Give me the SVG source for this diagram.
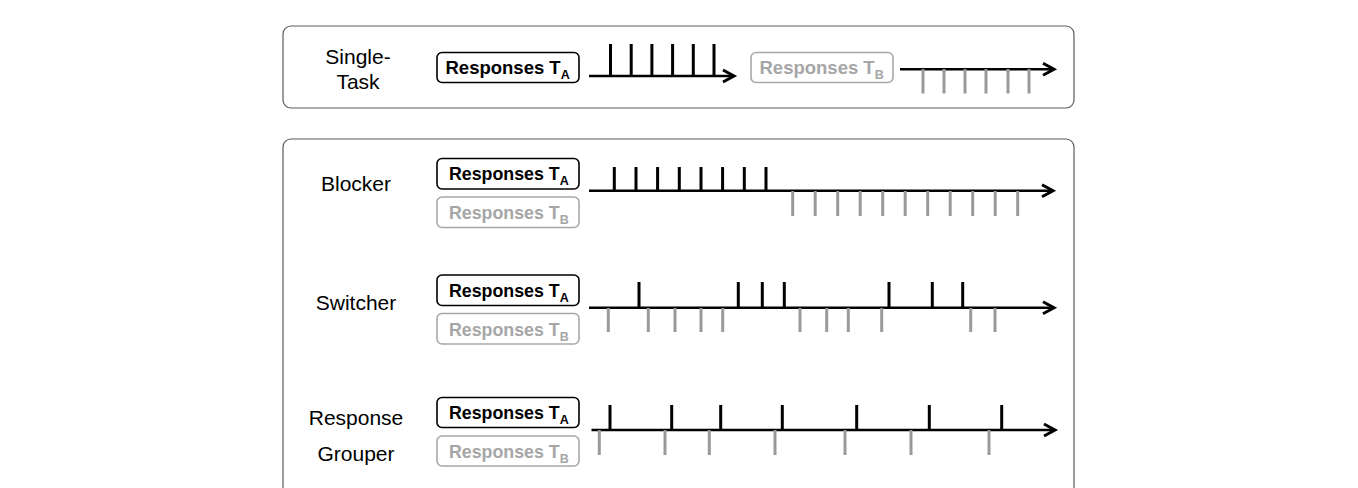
<svg xmlns="http://www.w3.org/2000/svg" width="1358" height="488" viewBox="0 0 1358 488">
<style>
.panel{fill:#fff;stroke:#5a5a5a;stroke-width:1.2}
.lbl{font-family:"Liberation Sans",Arial,sans-serif;font-size:21px;fill:#000;text-anchor:middle}
.boxA{fill:#fff;stroke:#000;stroke-width:1.6}
.boxB{fill:#fff;stroke:#a8a8a8;stroke-width:1.6}
.tA{font-family:"Liberation Sans",Arial,sans-serif;font-weight:bold;font-size:17.8px;fill:#000}
.tB{font-family:"Liberation Sans",Arial,sans-serif;font-weight:bold;font-size:17.8px;fill:#a6a6a6}
.sub{font-size:12.5px}
.axis{stroke:#000;stroke-width:2.5;fill:none}
.tkA{stroke:#000;stroke-width:3}
.tkB{stroke:#999;stroke-width:3}
</style>
<defs>
<marker id="arr" markerUnits="userSpaceOnUse" markerWidth="20" markerHeight="20" viewBox="-16 -10 20 20" refX="0" refY="0" orient="auto">
<path d="M-11,-6 L0,0 L-11,6" fill="none" stroke="#000" stroke-width="3" stroke-linejoin="miter"/>
</marker>
</defs>
<rect width="1358" height="488" fill="#fff"/>

<g id="panel-single">
<rect class="panel" x="283" y="26" width="791" height="82" rx="8"/>
<text class="lbl" x="358" y="64">Single-</text>
<text class="lbl" x="358" y="89">Task</text>
<rect class="boxA" x="437" y="52.5" width="142" height="30" rx="5"/>
<text class="tA" x="445.5" y="74.3" style="font-size:18.5px">Responses T<tspan class="sub" dy="5">A</tspan></text>
<rect class="boxB" x="751" y="52.5" width="142" height="30" rx="5"/>
<text class="tB" x="759.5" y="74.3" style="font-size:18.5px">Responses T<tspan class="sub" dy="5">B</tspan></text>
</g>

<g id="panel-multi">
<rect class="panel" x="283" y="139" width="791" height="370" rx="8"/>
</g>

<g id="blocker">
<text class="lbl" x="356" y="191">Blocker</text>
<rect class="boxA" x="437" y="158.5" width="142" height="30.5" rx="5"/>
<text class="tA" x="449" y="180">Responses T<tspan class="sub" dy="5">A</tspan></text>
<rect class="boxB" x="437" y="197" width="142" height="30.5" rx="5"/>
<text class="tB" x="449" y="219">Responses T<tspan class="sub" dy="5">B</tspan></text>
</g>

<g id="switcher">
<text class="lbl" x="356" y="310">Switcher</text>
<rect class="boxA" x="437" y="275" width="142" height="30.5" rx="5"/>
<text class="tA" x="449" y="296.5">Responses T<tspan class="sub" dy="5">A</tspan></text>
<rect class="boxB" x="437" y="313.5" width="142" height="30.5" rx="5"/>
<text class="tB" x="449" y="335.5">Responses T<tspan class="sub" dy="5">B</tspan></text>
</g>

<g id="grouper">
<text class="lbl" x="356" y="424.5">Response</text>
<text class="lbl" x="356" y="460.5">Grouper</text>
<rect class="boxA" x="437" y="397.5" width="142" height="30" rx="5"/>
<text class="tA" x="449" y="419">Responses T<tspan class="sub" dy="5">A</tspan></text>
<rect class="boxB" x="437" y="436" width="142" height="30" rx="5"/>
<text class="tB" x="449" y="457.5">Responses T<tspan class="sub" dy="5">B</tspan></text>
</g>

<g id="connectors">
<!-- single-task -->
<line class="axis" x1="589" y1="76" x2="734" y2="76" marker-end="url(#arr)"/>
<path class="tkA" d="M610.5,44V76M631.2,44V76M651.9,44V76M672.6,44V76M693.3,44V76M714,44V76"/>
<line class="axis" x1="900" y1="69.3" x2="1054" y2="69.3" marker-end="url(#arr)"/>
<path class="tkB" d="M923,69V93.5M944,69V93.5M965,69V93.5M986,69V93.5M1008,69V93.5M1029,69V93.5"/>

<!-- blocker -->
<line class="axis" x1="589" y1="190.7" x2="1053" y2="190.7" marker-end="url(#arr)"/>
<path class="tkA" d="M614.3,167V191M636,167V191M657.6,167V191M679.3,167V191M701,167V191M722.6,167V191M744.3,167V191M766,167V191"/>
<path class="tkB" d="M792.7,191V216M815.2,191V216M837.7,191V216M860.2,191V216M882.7,191V216M905.2,191V216M927.7,191V216M950.2,191V216M972.7,191V216M995.2,191V216M1017.7,191V216"/>

<!-- switcher -->
<line class="axis" x1="589" y1="307.7" x2="1054" y2="307.7" marker-end="url(#arr)"/>
<path class="tkA" d="M639,282V308M738.3,282V308M762.3,282V308M784.3,282V308M889,282V308M932.3,282V308M962.7,282V308"/>
<path class="tkB" d="M608.3,308V332M648.3,308V332M675,308V332M701,308V332M722.7,308V332M800,308V332M826.7,308V332M848.3,308V332M881.7,308V332M970.7,308V332M995,308V332"/>

<!-- grouper -->
<line class="axis" x1="591.5" y1="430" x2="1055" y2="430" marker-end="url(#arr)"/>
<path class="tkA" d="M610,405V430M671.7,405V430M720.7,405V430M782.3,405V430M856.7,405V430M929.3,405V430M1001.7,405V430"/>
<path class="tkB" d="M599.3,430V455M665,430V455M709.3,430V455M775,430V455M845,430V455M911,430V455M989,430V455"/>
</g>
</svg>
